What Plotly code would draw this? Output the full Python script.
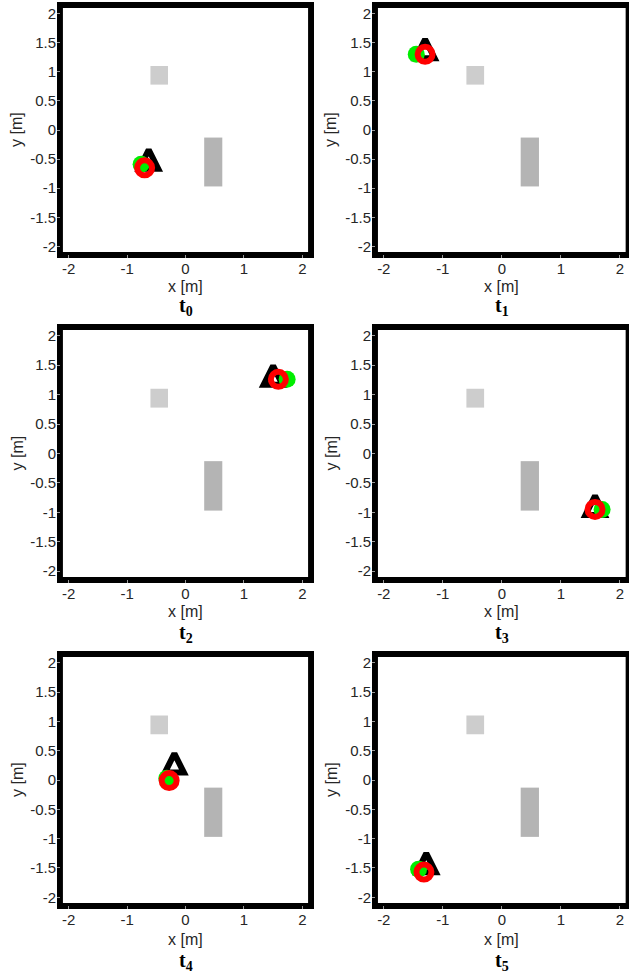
import plotly.graph_objects as go

# ---------------- data ----------------
panel_index = ["0", "1", "2", "3", "4", "5"]

# green filled circle (reference pose)
green_x = [-0.76, -1.45, 1.74, 1.70, -0.32, -1.41]
green_y = [-0.59, 1.30, 1.26, -0.95, 0.03, -1.52]

# red ring (estimate)
red_x = [-0.70, -1.30, 1.59, 1.58, -0.28, -1.32]
red_y = [-0.65, 1.30, 1.26, -0.95, -0.01, -1.57]

# black triangle (tip position)
tri_x = [-0.63, -1.30, 1.50, 1.58, -0.19, -1.28]
tri_y = [-0.34, 1.56, 1.49, -0.72, 0.45, -1.25]

# obstacles: small square and tall rectangle
obs_x0 = [-0.60, 0.32]
obs_x1 = [-0.30, 0.63]
obs_y0 = [0.78, -0.97]
obs_y1 = [1.10, -0.13]

wall_half = 2.15

x_tick_vals = [-2, -1, 0, 1, 2]
x_tick_text = ["-2", "-1", "0", "1", "2"]
y_tick_vals = [2, 1.5, 1, 0.5, 0, -0.5, -1, -1.5, -2]
y_tick_text = ["2", "1.5", "1", "0.5", "0", "-0.5", "-1", "-1.5", "-2"]

# ---------------- layout helpers ----------------
W, H = 629, 973
obs_colors = ["#cdcdcd", "#b4b4b4"]
cols_px = [(57, 314), (372, 629)]
rows_px = [(2, 258), (324, 583), (651, 909)]
xranges = [[-2.2, 2.2], [-2.2, -2.2 + 257 / 59.0]]
label_y_px = [286, 611, 939]
title_y_px = [306, 633, 961]
ylab_x_px = [17, 331]

fig = go.Figure()
shapes = []
annotations = []
tick_font = dict(family="Liberation Sans, Arial", size=15, color="#262626")
label_font = dict(family="Liberation Sans, Arial", size=16, color="#262626")

for k in range(6):
    r, c = divmod(k, 2)
    sfx = "" if k == 0 else str(k + 1)
    xa, ya = "x" + sfx, "y" + sfx
    (c0, c1), (r0, r1) = cols_px[c], rows_px[r]
    xdom = [c0 / W, min(c1 / W, 1.0)]
    ydom = [1 - r1 / H, 1 - r0 / H]
    axis_common = dict(showgrid=False, zeroline=False, showline=False,
                       ticks="inside", ticklen=3, tickcolor="#9a9a9a",
                       tickfont=tick_font, fixedrange=True)
    fig.layout["xaxis" + sfx] = dict(domain=xdom, range=xranges[c], anchor=ya,
                                     tickvals=x_tick_vals, ticktext=x_tick_text,
                                     **axis_common)
    fig.layout["yaxis" + sfx] = dict(domain=ydom, range=[-2.2, 2.2], anchor=xa,
                                     tickvals=y_tick_vals, ticktext=y_tick_text,
                                     **axis_common)

    # obstacles
    for i in range(len(obs_x0)):
        shapes.append(dict(type="rect", xref=xa, yref=ya, layer="below",
                           x0=obs_x0[i], x1=obs_x1[i], y0=obs_y0[i], y1=obs_y1[i],
                           fillcolor=obs_colors[i], line=dict(width=0)))
    # arena wall
    shapes.append(dict(type="rect", xref=xa, yref=ya, layer="below",
                       x0=-wall_half, x1=wall_half, y0=-wall_half, y1=wall_half,
                       fillcolor="rgba(0,0,0,0)", line=dict(color="black", width=6)))

    fig.add_trace(go.Scatter(x=[tri_x[k]], y=[tri_y[k]], xaxis=xa, yaxis=ya,
                             mode="markers", showlegend=False, hoverinfo="skip",
                             marker=dict(symbol="arrow-up", size=19, color="white",
                                         line=dict(color="black", width=6))))
    fig.add_trace(go.Scatter(x=[green_x[k]], y=[green_y[k]], xaxis=xa, yaxis=ya,
                             mode="markers", showlegend=False, hoverinfo="skip",
                             marker=dict(symbol="circle", size=17, color="#00ee00",
                                         line=dict(width=0))))
    fig.add_trace(go.Scatter(x=[red_x[k]], y=[red_y[k]], xaxis=xa, yaxis=ya,
                             mode="markers", showlegend=False, hoverinfo="skip",
                             marker=dict(symbol="circle-open", size=15, color="#ff0000",
                                         line=dict(width=6))))

    cx = (c0 + 2.2 * (c1 - c0) / (xranges[c][1] - xranges[c][0])) / W
    annotations.append(dict(text="x [m]", xref="paper", yref="paper", x=cx,
                            y=1 - label_y_px[r] / H, xanchor="center", yanchor="middle",
                            showarrow=False, font=label_font))
    annotations.append(dict(text="y [m]", xref="paper", yref="paper", x=ylab_x_px[c] / W,
                            y=1 - (r0 + r1) / 2 / H, xanchor="center", yanchor="middle",
                            textangle=-90, showarrow=False, font=label_font))
    annotations.append(dict(text="<b>t<sub>" + panel_index[k] + "</sub></b>", xref="paper",
                            yref="paper", x=cx, y=1 - title_y_px[r] / H,
                            xanchor="center", yanchor="middle", showarrow=False,
                            font=dict(family="Liberation Serif, Times New Roman", size=20,
                                      color="black")))

fig.update_layout(width=W, height=H, margin=dict(l=0, r=0, t=0, b=0),
                  paper_bgcolor="white", plot_bgcolor="white",
                  shapes=shapes, annotations=annotations, showlegend=False)

fig.write_html("out.html")
